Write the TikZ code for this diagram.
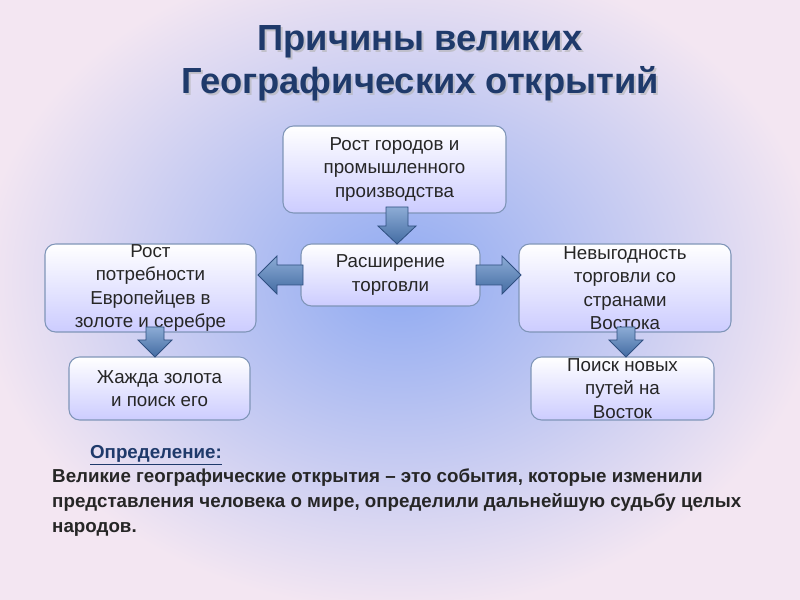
\documentclass[tikz,border=0pt]{standalone}
\usepackage{fontspec}
\setmainfont{Liberation Sans}
\definecolor{titleblue}{HTML}{1F3A6B}
\definecolor{boxline}{HTML}{7F95B8}
\definecolor{arrowblue}{HTML}{4F7FBF}
\definecolor{arrowline}{HTML}{2F4F80}
\definecolor{bgedge}{HTML}{F3E6F2}
\definecolor{bgmid}{HTML}{8FAAF2}
\tikzset{
  box/.style={draw=boxline,line width=0.9pt,rounded corners=9pt,top color=white,bottom color=blue!20!white},
  btxt/.style={align=center,text=black!85,font=\fontsize{16}{20}\selectfont},
  barrow/.style={draw=arrowline,line width=0.7pt,top color=arrowblue!65!white,bottom color=arrowblue!85!black},
  ttl/.style={font=\fontsize{31}{37}\selectfont\bfseries,text=titleblue,align=center}
}
\begin{document}
\begin{tikzpicture}[x=0.03cm,y=-0.03cm]
\useasboundingbox (0,0) rectangle (800,600);
\fill[bgedge] (0,0) rectangle (800,600);
\shade[inner color=bgmid, outer color=bgedge] (400,280) ellipse (420 and 330);
\node[ttl,text=black!30,opacity=0.6] at (422,65) {Причины великих\\Географических открытий};
\node[ttl] (title) at (420,63) {Причины великих\\Географических открытий};
\draw[box] (283,126) rectangle (506,213);
\node[btxt] (t1) at (394.5,169.5) {Рост городов и\\промышленного\\производства};
\draw[box] (301,244) rectangle (480,306);
\node[btxt] (t2) at (390.5,275) {Расширение\\торговли};
\draw[box] (45,244) rectangle (256,332);
\node[btxt] (t3) at (150.5,288) {Рост\\потребности\\Европейцев в\\золоте и серебре};
\draw[box] (519,244) rectangle (731,332);
\node[btxt] (t4) at (625,288) {Невыгодность\\торговли со\\странами\\Востока};
\draw[box] (69,357) rectangle (250,420);
\node[btxt] (t5) at (159.5,388.5) {Жажда золота\\и поиск его};
\draw[box] (531,357) rectangle (714,420);
\node[btxt] (t6) at (622.5,388.5) {Поиск новых\\путей на\\Восток};
% block arrows
\draw[barrow] (386,207) -- (408,207) -- (408,226) -- (416,226) -- (397,244) -- (378,226) -- (386,226) -- cycle;
\draw[barrow] (303,265) -- (277,265) -- (277,256) -- (258,275) -- (277,294) -- (277,285) -- (303,285) -- cycle;
\draw[barrow] (476,265) -- (502,265) -- (502,256) -- (521,275) -- (502,294) -- (502,285) -- (476,285) -- cycle;
\draw[barrow] (146,327) -- (164,327) -- (164,340) -- (172,340) -- (155,357) -- (138,340) -- (146,340) -- cycle;
\draw[barrow] (617,327) -- (635,327) -- (635,340) -- (643,340) -- (626,357) -- (609,340) -- (617,340) -- cycle;
\node[anchor=west,font=\fontsize{16}{21}\selectfont\bfseries,text=titleblue] (defh) at (86,455) {\underline{Определение:}};
\node[anchor=north west,align=left,font=\fontsize{16}{21.2}\selectfont\bfseries,text=black!85,inner sep=0pt] (def) at (52,469) {Великие географические открытия – это события, которые изменили\\представления человека о мире, определили дальнейшую судьбу целых\\народов.};
\end{tikzpicture}
\end{document}
